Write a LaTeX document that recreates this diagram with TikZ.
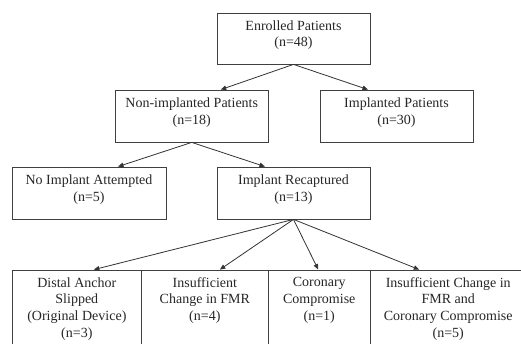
\documentclass[tikz,border=0pt]{standalone}
\usepackage{fontspec}
\setmainfont{Liberation Serif}
\usetikzlibrary{arrows.meta}
\tikzset{
  box/.style={draw=black!75, line width=0.8pt, inner sep=0pt, rectangle},
  txt/.style={anchor=north, inner sep=0pt, align=center, text=black!85,
    font=\fontsize{14}{16.8}\selectfont},
  arr/.style={draw=black!80, line width=0.8pt, -{Triangle[length=5.5pt,width=4.5pt]}}
}
\begin{document}
\begin{tikzpicture}[x=1pt,y=-1pt]
\useasboundingbox (0,0) rectangle (521,344);
\begin{scope}
\clip (0,0) rectangle (521,344);
% top row boxes
\node[box, minimum width=153pt, minimum height=51pt] (enr) at (293.5,38.5) {};
\node[box, minimum width=153.5pt, minimum height=52pt] (non) at (191.75,116) {};
\node[box, minimum width=153pt, minimum height=52pt] (imp) at (396.5,116) {};
\node[box, minimum width=154pt, minimum height=52pt] (noi) at (89,193) {};
\node[box, minimum width=153pt, minimum height=52pt] (rec) at (293.5,193) {};
% bottom row boxes
\node[box, minimum width=129.7pt, minimum height=90pt] (b1) at (76.85,315) {};
\node[box, minimum width=126.3pt, minimum height=90pt] (b2) at (204.85,315) {};
\node[box, minimum width=102.5pt, minimum height=90pt] (b3) at (319.25,315) {};
\node[box, minimum width=155.5pt, minimum height=90pt] (b4) at (448.25,315) {};
% texts
\node[txt] (tenr) at ([yshift=-7.6pt]enr.north) {Enrolled Patients\\(n=48)};
\node[txt] (tnon) at ([yshift=-8.4pt]non.north) {Non-implanted Patients\\(n=18)};
\node[txt] (timp) at ([yshift=-8.4pt]imp.north) {Implanted Patients\\(n=30)};
\node[txt] (tnoi) at ([yshift=-8.4pt]noi.north) {No Implant Attempted\\(n=5)};
\node[txt] (trec) at ([yshift=-8.4pt]rec.north) {Implant Recaptured\\(n=13)};
\node[txt] (tb1) at ([yshift=-7.5pt]b1.north) {Distal Anchor\\Slipped\\(Original Device)\\(n=3)};
\node[txt] (tb2) at ([yshift=-7.5pt]b2.north) {Insufficient\\Change in FMR\\(n=4)};
\node[txt] (tb3) at ([yshift=-7.5pt]b3.north) {Coronary\\Compromise\\(n=1)};
\node[txt] (tb4) at ([yshift=-7.5pt]b4.north) {Insufficient Change in\\FMR and\\Coronary Compromise\\(n=5)};
% connectors
\draw[arr] (enr.south) -- ([xshift=29pt]non.north);
\draw[arr] (enr.south) -- ([xshift=-28.5pt]imp.north);
\draw[arr] (non.south) -- ([xshift=29pt]noi.north);
\draw[arr] (non.south) -- ([xshift=-28.5pt]rec.north);
\draw[arr] (rec.south) -- ([xshift=17pt]b1.north);
\draw[arr] (rec.south) -- ([xshift=15pt]b2.north);
\draw[arr] (rec.south) -- ([xshift=-1pt]b3.north);
\draw[arr] (rec.south) -- ([xshift=-29pt]b4.north);
\end{scope}
\end{tikzpicture}
\end{document}
